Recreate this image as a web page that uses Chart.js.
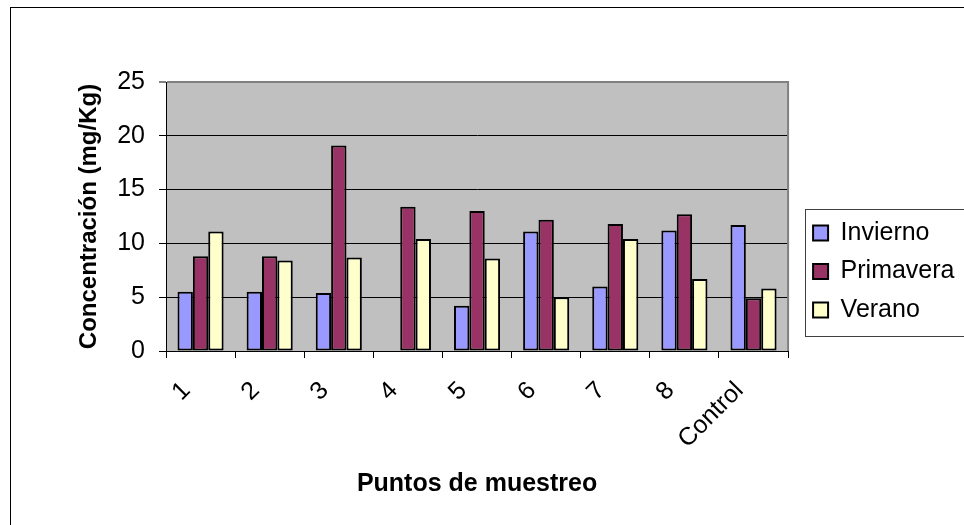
<!DOCTYPE html>
<html>
<head>
<meta charset="utf-8">
<script src="https://cdn.jsdelivr.net/npm/chart.js@4.4.1/dist/chart.umd.min.js"></script>
<style>
  html, body { margin: 0; padding: 0; background: #fff; }
  #wrap { width: 964px; height: 525px; }
</style>
</head>
<body>
<div id="wrap"><canvas id="c" width="964" height="525"></canvas></div>
<script>
const categories = ['1', '2', '3', '4', '5', '6', '7', '8', 'Control'];
const invierno  = [5.5, 5.5, 5.4, null, 4.2, 11.1, 6.0, 11.2, 11.7];
const primavera = [8.8, 8.8, 19.1, 13.4, 13.0, 12.2, 11.8, 12.7, 4.9];
const verano    = [11.1, 8.4, 8.7, 10.4, 8.6, 5.0, 10.4, 6.7, 5.8];
const seriesNames = ['Invierno', 'Primavera', 'Verano'];
const yTicks = [0, 5, 10, 15, 20, 25];
const yTitle = 'Concentración (mg/Kg)';
const xTitle = 'Puntos de muestreo';

const FONT = "'Liberation Sans', Arial, sans-serif";
Chart.defaults.font.family = FONT;
Chart.defaults.color = '#000';

const deco = {
  id: 'deco',
  beforeDraw(chart) {
    const { ctx, chartArea: a } = chart;
    ctx.save();
    ctx.fillStyle = '#fff';
    ctx.fillRect(0, 0, chart.width, chart.height);
    ctx.strokeStyle = '#000';
    ctx.lineWidth = 1;
    ctx.strokeRect(10.5, 7.5, chart.width + 20, chart.height + 20);
    ctx.fillStyle = '#C0C0C0';
    ctx.fillRect(a.left, a.top, a.right - a.left, a.bottom - a.top);
    ctx.restore();
  },
  beforeDatasetsDraw(chart) {
    const { ctx, chartArea: a } = chart;
    ctx.save();
    ctx.strokeStyle = '#808080';
    ctx.lineWidth = 2;
    ctx.beginPath();
    ctx.moveTo(a.right, a.top - 1);
    ctx.lineTo(a.right, a.bottom);
    ctx.stroke();
    ctx.restore();
  },
  afterDraw(chart) {
    const lg = chart.legend;
    if (!lg || !lg.legendHitBoxes || !lg.legendHitBoxes.length) return;
    const hb = lg.legendHitBoxes;
    const top = Math.round(hb[0].top - 12) + 0.5;
    const last = hb[hb.length - 1];
    const bottom = Math.round(last.top + last.height + 13) + 0.5;
    const left = Math.round(lg.left + 5) + 0.5;
    const { ctx } = chart;
    ctx.save();
    ctx.strokeStyle = '#404040';
    ctx.lineWidth = 1;
    ctx.strokeRect(left, top, chart.width, bottom - top);
    ctx.restore();
  }
};

const ds = (label, data, color) => ({
  label, data,
  backgroundColor: color,
  borderColor: '#000',
  borderWidth: 2,
  borderSkipped: false,
  categoryPercentage: 0.667,
  barPercentage: 1.0
});

new Chart(document.getElementById('c'), {
  type: 'bar',
  data: {
    labels: categories,
    datasets: [
      ds(seriesNames[0], invierno, '#9999FF'),
      ds(seriesNames[1], primavera, '#993366'),
      ds(seriesNames[2], verano, '#FFFFCC')
    ]
  },
  plugins: [deco],
  options: {
    responsive: false,
    animation: false,
    devicePixelRatio: 1,
    layout: { padding: { left: 10, top: 18, right: 6.5, bottom: 0 } },
    plugins: {
      tooltip: { enabled: false },
      legend: {
        position: 'right',
        align: 'center',
        labels: {
          boxWidth: 15,
          boxHeight: 15,
          padding: 13.5,
          font: { size: 25, family: FONT },
          color: '#000'
        }
      }
    },
    scales: {
      x: {
        offset: true,
        grid: { display: true, offset: true, drawOnChartArea: false, tickLength: 7, color: '#000', lineWidth: 1 },
        border: { display: true, color: '#000', width: 1 },
        ticks: {
          maxRotation: 45, minRotation: 45,
          padding: 18,
          labelOffset: -14,
          font: { size: 25, family: FONT },
          color: '#000'
        },
        title: {
          display: true,
          text: xTitle,
          font: { size: 25, weight: 'bold', family: FONT },
          color: '#000',
          padding: { top: 0, bottom: 26 }
        },
        afterFit(s) { s.height = 174; }
      },
      xTop: {
        type: 'category',
        position: 'top',
        display: true,
        grid: { display: false },
        border: { display: false },
        ticks: { display: false },
        afterFit(s) { s.height = 64; }
      },
      y: {
        min: 0, max: 25,
        afterBuildTicks(s) { s.ticks = yTicks.map(v => ({ value: v })); },
        grid: {
          tickLength: 7,
          color: c => (c.tick && c.tick.value === 25) ? '#808080' : '#000',
          lineWidth: c => (c.tick && c.tick.value === 25) ? 2 : 1
        },
        border: { display: true, color: '#000', width: 1 },
        ticks: {
          padding: 14,
          font: { size: 25, family: FONT },
          color: '#000'
        },
        title: {
          display: true,
          text: yTitle,
          font: { size: 24, weight: 'bold', family: FONT },
          color: '#000',
          padding: { top: 65, bottom: 0 }
        },
        afterFit(s) { s.width = 156; }
      },
      yR: {
        type: 'linear',
        position: 'right',
        display: true,
        grid: { display: false },
        border: { display: false },
        ticks: { display: false },
        afterFit(s) { s.width = 11.5; }
      }
    }
  }
});
</script>
</body>
</html>
